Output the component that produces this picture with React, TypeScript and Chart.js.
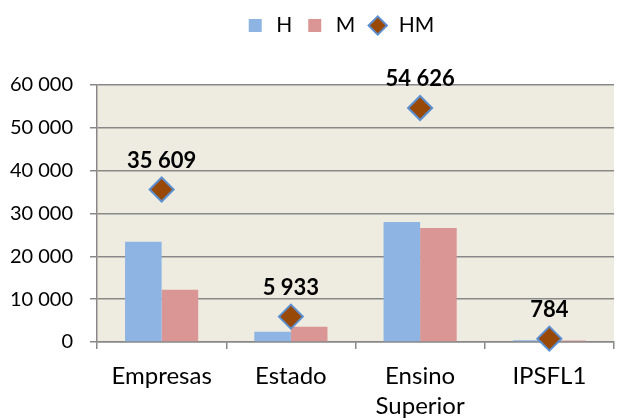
import React, { useEffect, useRef } from "react";
import { Chart, registerables } from "chart.js";

Chart.register(...registerables);

const categories: (string | string[])[] = ["Empresas", "Estado", ["Ensino", "Superior"], "IPSFL1"];
const seriesH = [23400, 2400, 28000, 420];
const seriesM = [12209, 3533, 26626, 364];
const seriesHM = [35609, 5933, 54626, 784];
const yTicks = [0, 10000, 20000, 30000, 40000, 50000, 60000];

const FONT = "Lato, 'Open Sans', sans-serif";
const GRID = "#888888";

const fmt = (v: number) => String(Math.round(v)).replace(/\B(?=(\d{3})+(?!\d))/g, " ");

const plotBg = {
  id: "plotBg",
  beforeDraw(chart: any) {
    const { ctx, chartArea } = chart;
    ctx.save();
    ctx.fillStyle = "#EEECE1";
    ctx.fillRect(chartArea.left, chartArea.top, chartArea.right - chartArea.left, chartArea.bottom - chartArea.top);
    ctx.restore();
  },
};

// nudge the legend: up into the top margin and centred over the plot area
const legendShift = {
  id: "legendShift",
  afterLayout(chart: any) {
    const lg = chart.legend;
    if (!lg) return;
    lg.top -= 39;
    lg.bottom -= 39;
    lg.left += 52;
  },
};

const valueLabels = {
  id: "valueLabels",
  afterDatasetsDraw(chart: any) {
    const { ctx } = chart;
    const meta = chart.getDatasetMeta(2);
    const data = chart.data.datasets[2].data as number[];
    ctx.save();
    ctx.font = `bold 22px ${FONT}`;
    ctx.fillStyle = "#000";
    ctx.textAlign = "center";
    ctx.textBaseline = "middle";
    meta.data.forEach((pt: any, i: number) => {
      ctx.fillText(fmt(data[i]), pt.x, pt.y - 29);
    });
    ctx.restore();
  },
};

export default function App() {
  const ref = useRef<HTMLCanvasElement>(null);
  useEffect(() => {
    if (!ref.current) return;
    const chart = new Chart(ref.current, {
      type: "bar",
      data: {
        labels: categories,
        datasets: [
          { label: "H", data: seriesH, backgroundColor: "#8DB4E2", order: 1, pointStyle: "rect" } as any,
          { label: "M", data: seriesM, backgroundColor: "#DA9694", order: 1, pointStyle: "rect" } as any,
          {
            type: "line",
            label: "HM",
            data: seriesHM,
            showLine: false,
            pointStyle: "rectRot",
            pointRadius: 12,
            pointBorderWidth: 2,
            backgroundColor: "#984807",
            borderColor: "#5B8FD0",
            pointBackgroundColor: "#984807",
            pointBorderColor: "#5B8FD0",
            order: 0,
            clip: false,
          } as any,
        ],
      },
      options: {
        animation: false,
        responsive: false,
        maintainAspectRatio: false,
        layout: { padding: { left: 0, right: 1, top: 42, bottom: 0 } },
        datasets: { bar: { categoryPercentage: 0.566, barPercentage: 1 } },
        plugins: {
          tooltip: { enabled: false },
          legend: {
            position: "top",
            labels: {
              usePointStyle: true,
              boxHeight: 13,
              padding: 12,
              color: "#000",
              font: { family: FONT, size: 21 },
              sort: (a: any, b: any) => a.datasetIndex - b.datasetIndex,
            },
          },
        },
        scales: {
          x: {
            offset: true,
            grid: { drawOnChartArea: false, drawTicks: true, tickLength: 7, color: GRID, lineWidth: 1.5 },
            border: { display: true, color: GRID, width: 1.5 },
            ticks: { color: "#000", font: { family: FONT, size: 24, lineHeight: 1.25 }, padding: 12, maxRotation: 0, autoSkip: false },
            afterFit: (s: any) => { s.height = 77; },
          },
          y: {
            min: 0,
            max: 60000,
            afterBuildTicks: (s: any) => { s.ticks = yTicks.map((v) => ({ value: v })); },
            grid: { color: GRID, lineWidth: 1.5, tickLength: 7 },
            border: { display: true, color: GRID, width: 1.5 },
            ticks: { color: "#000", font: { family: FONT, size: 20 }, padding: 17, callback: (v: any) => fmt(Number(v)) },
            afterFit: (s: any) => { s.width = 97; },
          },
        },
      },
      plugins: [plotBg, legendShift, valueLabels],
    });
    return () => chart.destroy();
  }, []);
  return (
    <div style={{ position: "fixed", left: 0, top: 0, width: 628, height: 419, background: "#fff" }}>
      <canvas ref={ref} width={628} height={419} style={{ width: 628, height: 419, display: "block" }} />
    </div>
  );
}
